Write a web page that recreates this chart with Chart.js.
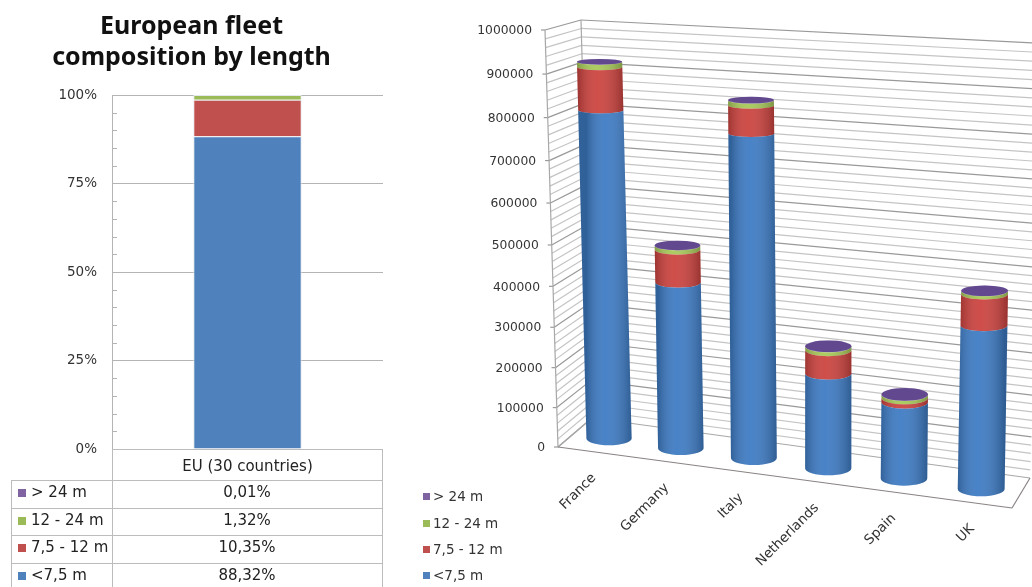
<!DOCTYPE html>
<html>
<head>
<meta charset="utf-8">
<title>European fleet</title>
<script src="https://cdn.jsdelivr.net/npm/chart.js@4"></script>
<style>
    html, body { margin: 0; padding: 0; background: #fff; }
    #share_chart { position: absolute; left: 0; top: 0; }
    #country_chart { position: absolute; left: 410px; top: 0; }
</style>
</head>
<body>
<canvas id="share_chart" width="383" height="587"></canvas>
<canvas id="country_chart" width="622" height="587"></canvas>
<script>
var length_classes = ['> 24 m', '12 - 24 m', '7,5 - 12 m', '<7,5 m'];
var class_colors = ['#8064a2', '#9bbb59', '#c0504d', '#4f81bd'];

// EU shares, percent
var eu_label = ['EU (30 countries)'];
var eu_over_24 = [0.01];
var eu_12_24 = [1.32];
var eu_75_12 = [10.35];
var eu_under_75 = [88.32];

// fleet per country
var countries = ['France', 'Germany', 'Italy', 'Netherlands', 'Spain', 'UK'];
var over_24 = [900, 600, 1000, 800, 700, 700];
var from_12_24 = [12000, 10000, 11000, 9000, 8000, 7000];
var from_75_12 = [100000, 79000, 64000, 56000, 10000, 72000];
var under_75 = [808000, 412000, 778000, 231000, 184000, 384000];

var font_family = '"DejaVu Sans", sans-serif';

// left chart: 100% stacked column with its data table underneath
var table_lines = [480, 507.5, 535, 562.5];
var table_rows = [493, 521, 548, 576];

const shareTable = {
    id: 'shareTable',
    afterDraw(chart) {
        const c = chart.ctx;
        const y_scale = chart.scales.y;
        c.save();
        // short inside marks every 5%
        c.strokeStyle = '#b4b4b4';
        c.lineWidth = 1;
        y_scale.ticks.forEach(function (t) {
            if (t.value % 25 != 0) {
                const y = Math.round(y_scale.getPixelForValue(t.value)) + .5;
                c.beginPath();
                c.moveTo(112, y);
                c.lineTo(117, y);
                c.stroke();
            }
        });
        // table frame
        c.strokeStyle = '#bcbcbc';
        c.beginPath();
        c.moveTo(112.5, 449.5); c.lineTo(382.5, 449.5);
        c.moveTo(112.5, 449.5); c.lineTo(112.5, 587);
        c.moveTo(382.5, 449.5); c.lineTo(382.5, 587);
        c.moveTo(11.5, 480); c.lineTo(11.5, 587);
        table_lines.forEach(function (y) {
            c.moveTo(11.5, Math.round(y) + .5);
            c.lineTo(382.5, Math.round(y) + .5);
        });
        c.stroke();
        // rows: swatch, class name, share
        const shares = [eu_over_24, eu_12_24, eu_75_12, eu_under_75];
        c.font = '15px ' + font_family;
        c.textBaseline = 'middle';
        table_rows.forEach(function (y, i) {
            c.fillStyle = class_colors[i];
            c.fillRect(18, y - 4, 8, 8);
            c.fillStyle = '#222';
            c.textAlign = 'left';
            c.fillText(length_classes[i], 31, y);
            c.textAlign = 'center';
            c.fillText(shares[i][0].toFixed(2).replace('.', ',') + '%', 247, y);
        });
        c.restore();
    }
};

var share_chart = new Chart(document.getElementById('share_chart'), {
    type: 'bar',
    data: {
        labels: eu_label,
        datasets: [
            { label: length_classes[3], data: eu_under_75, backgroundColor: class_colors[3] },
            { label: length_classes[2], data: eu_75_12, backgroundColor: class_colors[2] },
            { label: length_classes[1], data: eu_12_24, backgroundColor: class_colors[1] },
            { label: length_classes[0], data: eu_over_24, backgroundColor: class_colors[0] }
        ]
    },
    options: {
        responsive: false,
        animation: false,
        barPercentage: .4,
        categoryPercentage: 1,
        borderColor: '#e4e9f0',
        borderWidth: 1,
        scales: {
            x: {
                stacked: true,
                grid: { display: false },
                border: { display: false },
                ticks: { color: '#222', padding: 1, font: { family: font_family, size: 15 } },
                afterFit(scale) { scale.height = 138; }
            },
            y: {
                stacked: true,
                min: 0,
                max: 100,
                grid: {
                    drawTicks: false,
                    color: function (ctx) {
                        return ctx.tick.value % 25 == 0 ? '#b4b4b4' : 'rgba(0,0,0,0)';
                    }
                },
                border: { color: '#b4b4b4' },
                ticks: {
                    stepSize: 5,
                    autoSkip: false,
                    padding: 15,
                    color: '#333',
                    font: { family: font_family, size: 13.5 },
                    callback: function (v) { return v % 25 == 0 ? v + '%' : ''; }
                },
                afterFit(scale) { scale.width = 112; }
            }
        },
        plugins: {
            legend: { display: false },
            tooltip: { enabled: false },
            title: {
                display: true,
                text: ['European fleet', 'composition by length'],
                color: '#111',
                font: { family: '"Noto Sans", sans-serif', size: 25, weight: 'bold', lineHeight: 1.25 },
                padding: { top: 11, bottom: 21.5 }
            }
        }
    },
    plugins: [shareTable]
});

// right chart: stacked cylinders in a perspective box
// box corners in canvas pixels: front/back, left/right, bottom/top
var box = {
    flb: [148, 447], frb: [602, 508], blb: [182, 418], brb: [620, 478],
    flt: [135, 30], frt: [606, 54], blt: [171, 20], brt: [636, 43.5]
};
var bar_depth = .46;

function mix(a, b, t) {
    return [a[0] + (b[0] - a[0]) * t, a[1] + (b[1] - a[1]) * t];
}

// u along the category axis, v up the value axis, d into the box (all 0..1)
function project(u, v, d) {
    const uu = u * .947 / (1 - .053 * u);
    const vv = v * .94 / (1 - .06 * v);
    const bottom = mix(mix(box.flb, box.frb, uu), mix(box.blb, box.brb, uu), d);
    const top = mix(mix(box.flt, box.frt, uu), mix(box.blt, box.brt, uu), d);
    return mix(bottom, top, vv);
}

function planeU(chart, px) {
    return (px - chart.chartArea.left) / chart.chartArea.width;
}
function planeV(chart, py) {
    const a = chart.chartArea;
    return (a.bottom - py) / a.height;
}
function capHeight(y) {
    return 2.5 + (y - 30) * .0105;
}

class CylinderElement extends Chart.BarElement {
    draw(c) {
        const chart = this.owner_chart;
        const u = planeU(chart, this.x);
        const low = project(u, planeV(chart, this.base), bar_depth);
        const high = project(u, planeV(chart, this.y), bar_depth);
        const rx = 22.5 + u;
        const shade = c.createLinearGradient(low[0] - rx, 0, low[0] + rx, 0);
        shade.addColorStop(0, 'rgba(0,0,0,.22)');
        shade.addColorStop(.42, 'rgba(255,255,255,.05)');
        shade.addColorStop(1, 'rgba(0,0,0,.25)');
        c.save();
        c.beginPath();
        c.moveTo(high[0] - rx, high[1]);
        c.lineTo(low[0] - rx, low[1]);
        c.ellipse(low[0], low[1], rx, capHeight(low[1]), 0, Math.PI, 0, true);
        c.lineTo(high[0] + rx, high[1]);
        c.ellipse(high[0], high[1], rx, capHeight(high[1]), 0, 0, Math.PI, false);
        c.closePath();
        c.fillStyle = this.options.backgroundColor;
        c.fill();
        c.fillStyle = shade;
        c.fill();
        c.restore();
    }
}
CylinderElement.id = 'cylinder';
CylinderElement.defaults = Object.assign({}, Chart.BarElement.defaults);

class CylinderController extends Chart.BarController {
    draw() {
        const chart = this.chart;
        this._cachedMeta.data.forEach(function (el) { el.owner_chart = chart; });
        super.draw();
    }
}
CylinderController.id = 'cylinder';
CylinderController.defaults = Object.assign({}, Chart.BarController.defaults, { dataElementType: 'cylinder' });
CylinderController.overrides = Chart.BarController.overrides;
Chart.register(CylinderElement, CylinderController);

function line(c, a, b) {
    c.beginPath();
    c.moveTo(a[0], a[1]);
    c.lineTo(b[0], b[1]);
    c.stroke();
}

const perspectiveBox = {
    id: 'perspectiveBox',
    beforeDatasetsDraw(chart) {
        const c = chart.ctx;
        const y_scale = chart.scales.y;
        c.save();
        c.lineWidth = 1.2;
        y_scale.ticks.forEach(function (t) {
            const v = planeV(chart, y_scale.getPixelForValue(t.value));
            const major = t.value % 100000 == 0;
            c.strokeStyle = major ? '#999' : '#c4c4c4';
            if (t.value > 0) {
                line(c, project(0, v, 1), project(1, v, 1));
            }
            line(c, project(0, v, 0), project(0, v, 1));
            if (major) {
                const p = project(0, v, 0);
                c.strokeStyle = '#9a9a9a';
                line(c, [p[0] - 4, p[1]], p);
                c.fillStyle = '#333';
                c.font = '12.3px ' + font_family;
                c.textAlign = 'right';
                c.textBaseline = 'middle';
                c.fillText(String(t.value), p[0] - 13, p[1] + 1);
            }
        });
        // wall edges and floor outline
        c.strokeStyle = '#a8a8a8';
        line(c, box.flb, box.flt);
        line(c, box.blb, box.blt);
        line(c, box.blb, box.brb);
        line(c, box.flb, box.blb);
        c.strokeStyle = '#8a8484';
        line(c, box.flb, box.frb);
        line(c, box.frb, box.brb);
        c.restore();
    },
    afterDatasetsDraw(chart) {
        const c = chart.ctx;
        const x_scale = chart.scales.x;
        // purple lid on the last stacked series
        const top_set = chart.getDatasetMeta(chart.data.datasets.length - 1);
        c.save();
        top_set.data.forEach(function (el) {
            const u = planeU(chart, el.x);
            const p = project(u, planeV(chart, el.y), bar_depth);
            c.beginPath();
            c.ellipse(p[0], p[1], 22.5 + u, capHeight(p[1]), 0, 0, Math.PI * 2);
            c.fillStyle = class_colors[0];
            c.fill();
            c.fillStyle = 'rgba(40,20,110,.35)';
            c.fill();
        });
        // category names, slanted under the front edge
        c.fillStyle = '#333';
        c.font = '13.5px ' + font_family;
        c.textAlign = 'right';
        c.textBaseline = 'middle';
        countries.forEach(function (name, i) {
            const p = project(planeU(chart, x_scale.getPixelForTick(i)), 0, 0);
            c.save();
            c.translate(p[0], p[1] + 24);
            c.rotate(-Math.PI / 4);
            c.fillText(name, 0, 0);
            c.restore();
        });
        // legend
        c.font = '13.5px ' + font_family;
        c.textAlign = 'left';
        [497, 524, 550, 576].forEach(function (y, i) {
            c.fillStyle = class_colors[i];
            c.fillRect(13, y - 4, 7, 7);
            c.fillStyle = '#333';
            c.fillText(length_classes[i], 23, y);
        });
        c.restore();
    }
};

var country_chart = new Chart(document.getElementById('country_chart'), {
    type: 'cylinder',
    data: {
        labels: countries,
        datasets: [
            { label: length_classes[3], data: under_75, backgroundColor: '#3f7cc4' },
            { label: length_classes[2], data: from_75_12, backgroundColor: '#cc4440' },
            { label: length_classes[1], data: from_12_24, backgroundColor: '#a8c95a' },
            { label: length_classes[0], data: over_24, backgroundColor: class_colors[0] }
        ]
    },
    options: {
        responsive: false,
        animation: false,
        layout: { padding: 0 },
        scales: {
            x: { stacked: true, display: false },
            y: {
                stacked: true,
                display: false,
                min: 0,
                max: 1000000,
                ticks: { stepSize: 20000, autoSkip: false, count: 51 }
            }
        },
        plugins: {
            legend: { display: false },
            tooltip: { enabled: false }
        }
    },
    plugins: [perspectiveBox]
});
</script>
</body>
</html>
